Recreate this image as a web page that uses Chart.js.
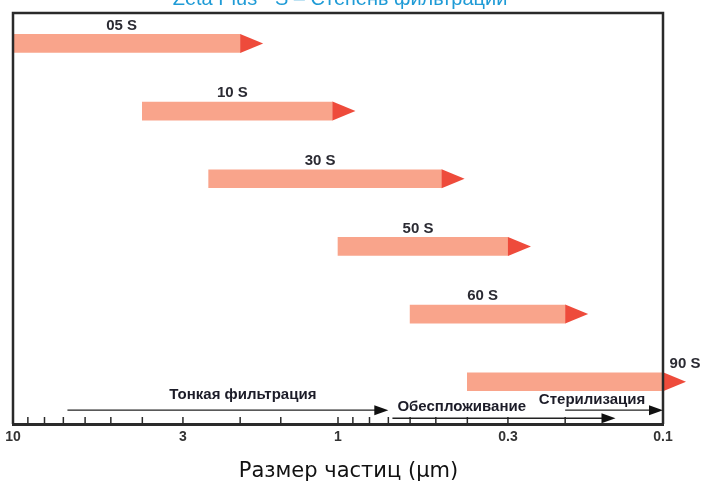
<!DOCTYPE html>
<html>
<head>
<meta charset="utf-8">
<script src="https://cdn.jsdelivr.net/npm/chart.js@4.4.0/dist/chart.umd.min.js"></script>
<style>
  html, body { margin: 0; padding: 0; background: #fff; }
  #wrap { width: 704px; height: 484px; }
</style>
</head>
<body>
<div id="wrap"><canvas id="myChart"></canvas></div>
<script>
// filter grades and the particle size range each one covers (um)
var grades = ['05 S', '10 S', '30 S', '50 S', '60 S', '90 S'];
var sizeFrom = [10, 4, 2.5, 1, 0.6, 0.4];
var sizeTo = [2, 1.04, 0.48, 0.3, 0.2, 0.1];

// application zones shown as thin arrows under the bars
var zoneNames = ['Тонкая фильтрация', 'Обеспложивание', 'Стерилизация'];
var zoneFrom = [6.8, 0.68, 0.2];
var zoneTo = [0.7, 0.14, 0.1];
var zoneRow = [5.42, 5.54, 5.42];

var tickLabels = [10, 3, 1, 0.3, 0.1];
var chartTitle = 'Zeta Plus - S – Степень фильтрации';
var axisTitle = 'Размер частиц (µm)';

var myChart;

var FONT = '"Liberation Sans", Arial, sans-serif';

function isLabelled(v) {
    for (var i = 0; i < tickLabels.length; i++) {
        if (Math.abs(v - tickLabels[i]) / tickLabels[i] < 1e-6) return true;
    }
    return false;
}

function triangle(ctx, x, y, w, h) {
    ctx.beginPath();
    ctx.moveTo(x, y - h / 2);
    ctx.lineTo(x + w, y);
    ctx.lineTo(x, y + h / 2);
    ctx.closePath();
    ctx.fill();
}

// text placement of each zone label relative to its arrow
var zoneText = [
    {dx: 15, dy: -15, align: 'center', at: 'mid'},
    {dx: 5, dy: -11, align: 'left', at: 'start'},
    {dx: -22, dy: -10, align: 'center', at: 'mid'}
];

var decorPlugin = {
    id: 'decor',
    afterDatasetsDraw: function(chart) {
        var ctx = chart.ctx;
        var xs = chart.scales.x;
        var ys = chart.scales.y;
        var a = chart.chartArea;
        var i;
        ctx.save();

        // arrow heads and grade labels
        for (i = 0; i < grades.length; i++) {
            var ex = xs.getPixelForValue(sizeTo[i]);
            var sx = xs.getPixelForValue(sizeFrom[i]);
            var cy = ys.getPixelForValue(i);
            ctx.fillStyle = '#ee4b3b';
            triangle(ctx, ex, cy, 23, 19);

            ctx.fillStyle = '#2b2b33';
            ctx.font = 'bold 15px ' + FONT;
            ctx.textAlign = 'center';
            ctx.textBaseline = 'middle';
            var lx = (sx + ex) / 2 - 5;
            if (Math.abs(sizeTo[i] - xs.min) < 1e-9) lx = ex + 22;
            ctx.fillText(grades[i], lx, cy - 18);
        }

        // frame: top, left, right
        ctx.strokeStyle = '#2a2a2a';
        ctx.lineWidth = 2.5;
        ctx.beginPath();
        ctx.moveTo(a.left, a.bottom);
        ctx.lineTo(a.left, a.top);
        ctx.lineTo(a.right, a.top);
        ctx.lineTo(a.right, a.bottom);
        ctx.stroke();

        // inner tick marks on the log axis
        ctx.lineWidth = 1.5;
        xs.ticks.forEach(function(t) {
            var px = xs.getPixelForValue(t.value);
            ctx.beginPath();
            ctx.moveTo(px, a.bottom - 7);
            ctx.lineTo(px, a.bottom);
            ctx.stroke();
        });

        // zone arrows
        for (i = 0; i < zoneNames.length; i++) {
            var x1 = xs.getPixelForValue(zoneFrom[i]);
            var x2 = xs.getPixelForValue(zoneTo[i]);
            var zy = ys.getPixelForValue(zoneRow[i]);
            ctx.strokeStyle = '#222';
            ctx.lineWidth = 1.3;
            ctx.beginPath();
            ctx.moveTo(x1, zy);
            ctx.lineTo(x2 - 12, zy);
            ctx.stroke();
            ctx.fillStyle = '#111';
            triangle(ctx, x2 - 14, zy, 14, 10);

            var zt = zoneText[i];
            ctx.font = 'bold 15px ' + FONT;
            ctx.textAlign = zt.align;
            ctx.textBaseline = 'middle';
            ctx.fillStyle = '#1c1c28';
            var tx = zt.at === 'mid' ? (x1 + x2) / 2 : x1;
            ctx.fillText(zoneNames[i], tx + zt.dx, zy + zt.dy);
        }

        // title, cut at the top edge
        ctx.fillStyle = '#1f9bd6';
        ctx.font = '20px ' + FONT;
        ctx.textAlign = 'center';
        ctx.textBaseline = 'alphabetic';
        ctx.fillText(chartTitle, 340, 5);

        ctx.restore();
    }
};

function init_chart() {
    var ctx = document.getElementById('myChart').getContext('2d');

    var points = [];
    for (var i = 0; i < grades.length; i++) {
        points.push({x: [sizeFrom[i], sizeTo[i]], y: i});
    }

    const data = {
        datasets: [{
            data: points,
            backgroundColor: '#f9a48b',
            barThickness: 18,
            borderWidth: 0
        }]
    };

    const config = {
        type: 'bar',
        data: data,
        options: {
            indexAxis: 'y',
            responsive: true,
            maintainAspectRatio: false,
            animation: false,
            layout: {padding: {left: 13, right: 41, top: 13, bottom: 0}},
            plugins: {
                legend: {display: false},
                tooltip: {enabled: false}
            },
            scales: {
                x: {
                    type: 'logarithmic',
                    reverse: true,
                    min: 0.1,
                    max: 10,
                    grid: {display: false},
                    border: {display: true, color: '#2a2a2a', width: 3},
                    ticks: {
                        autoSkip: false,
                        maxRotation: 0,
                        padding: -3,
                        color: '#333',
                        font: {family: FONT, size: 14, weight: 'bold'},
                        callback: function(v) {
                            return isLabelled(v) ? String(Math.round(v * 10) / 10) : '';
                        }
                    },
                    title: {
                        display: true,
                        text: '\u2002\u2002' + axisTitle,
                        color: '#111',
                        font: {family: '"DejaVu Sans", sans-serif', size: 21},
                        padding: {top: 16, bottom: 0}
                    }
                },
                y: {
                    type: 'linear',
                    reverse: true,
                    offset: false,
                    min: -0.45,
                    max: 5.625,
                    display: false
                }
            }
        },
        plugins: [decorPlugin]
    };

    myChart = new Chart(ctx, config);
}

init_chart();
</script>
</body>
</html>
